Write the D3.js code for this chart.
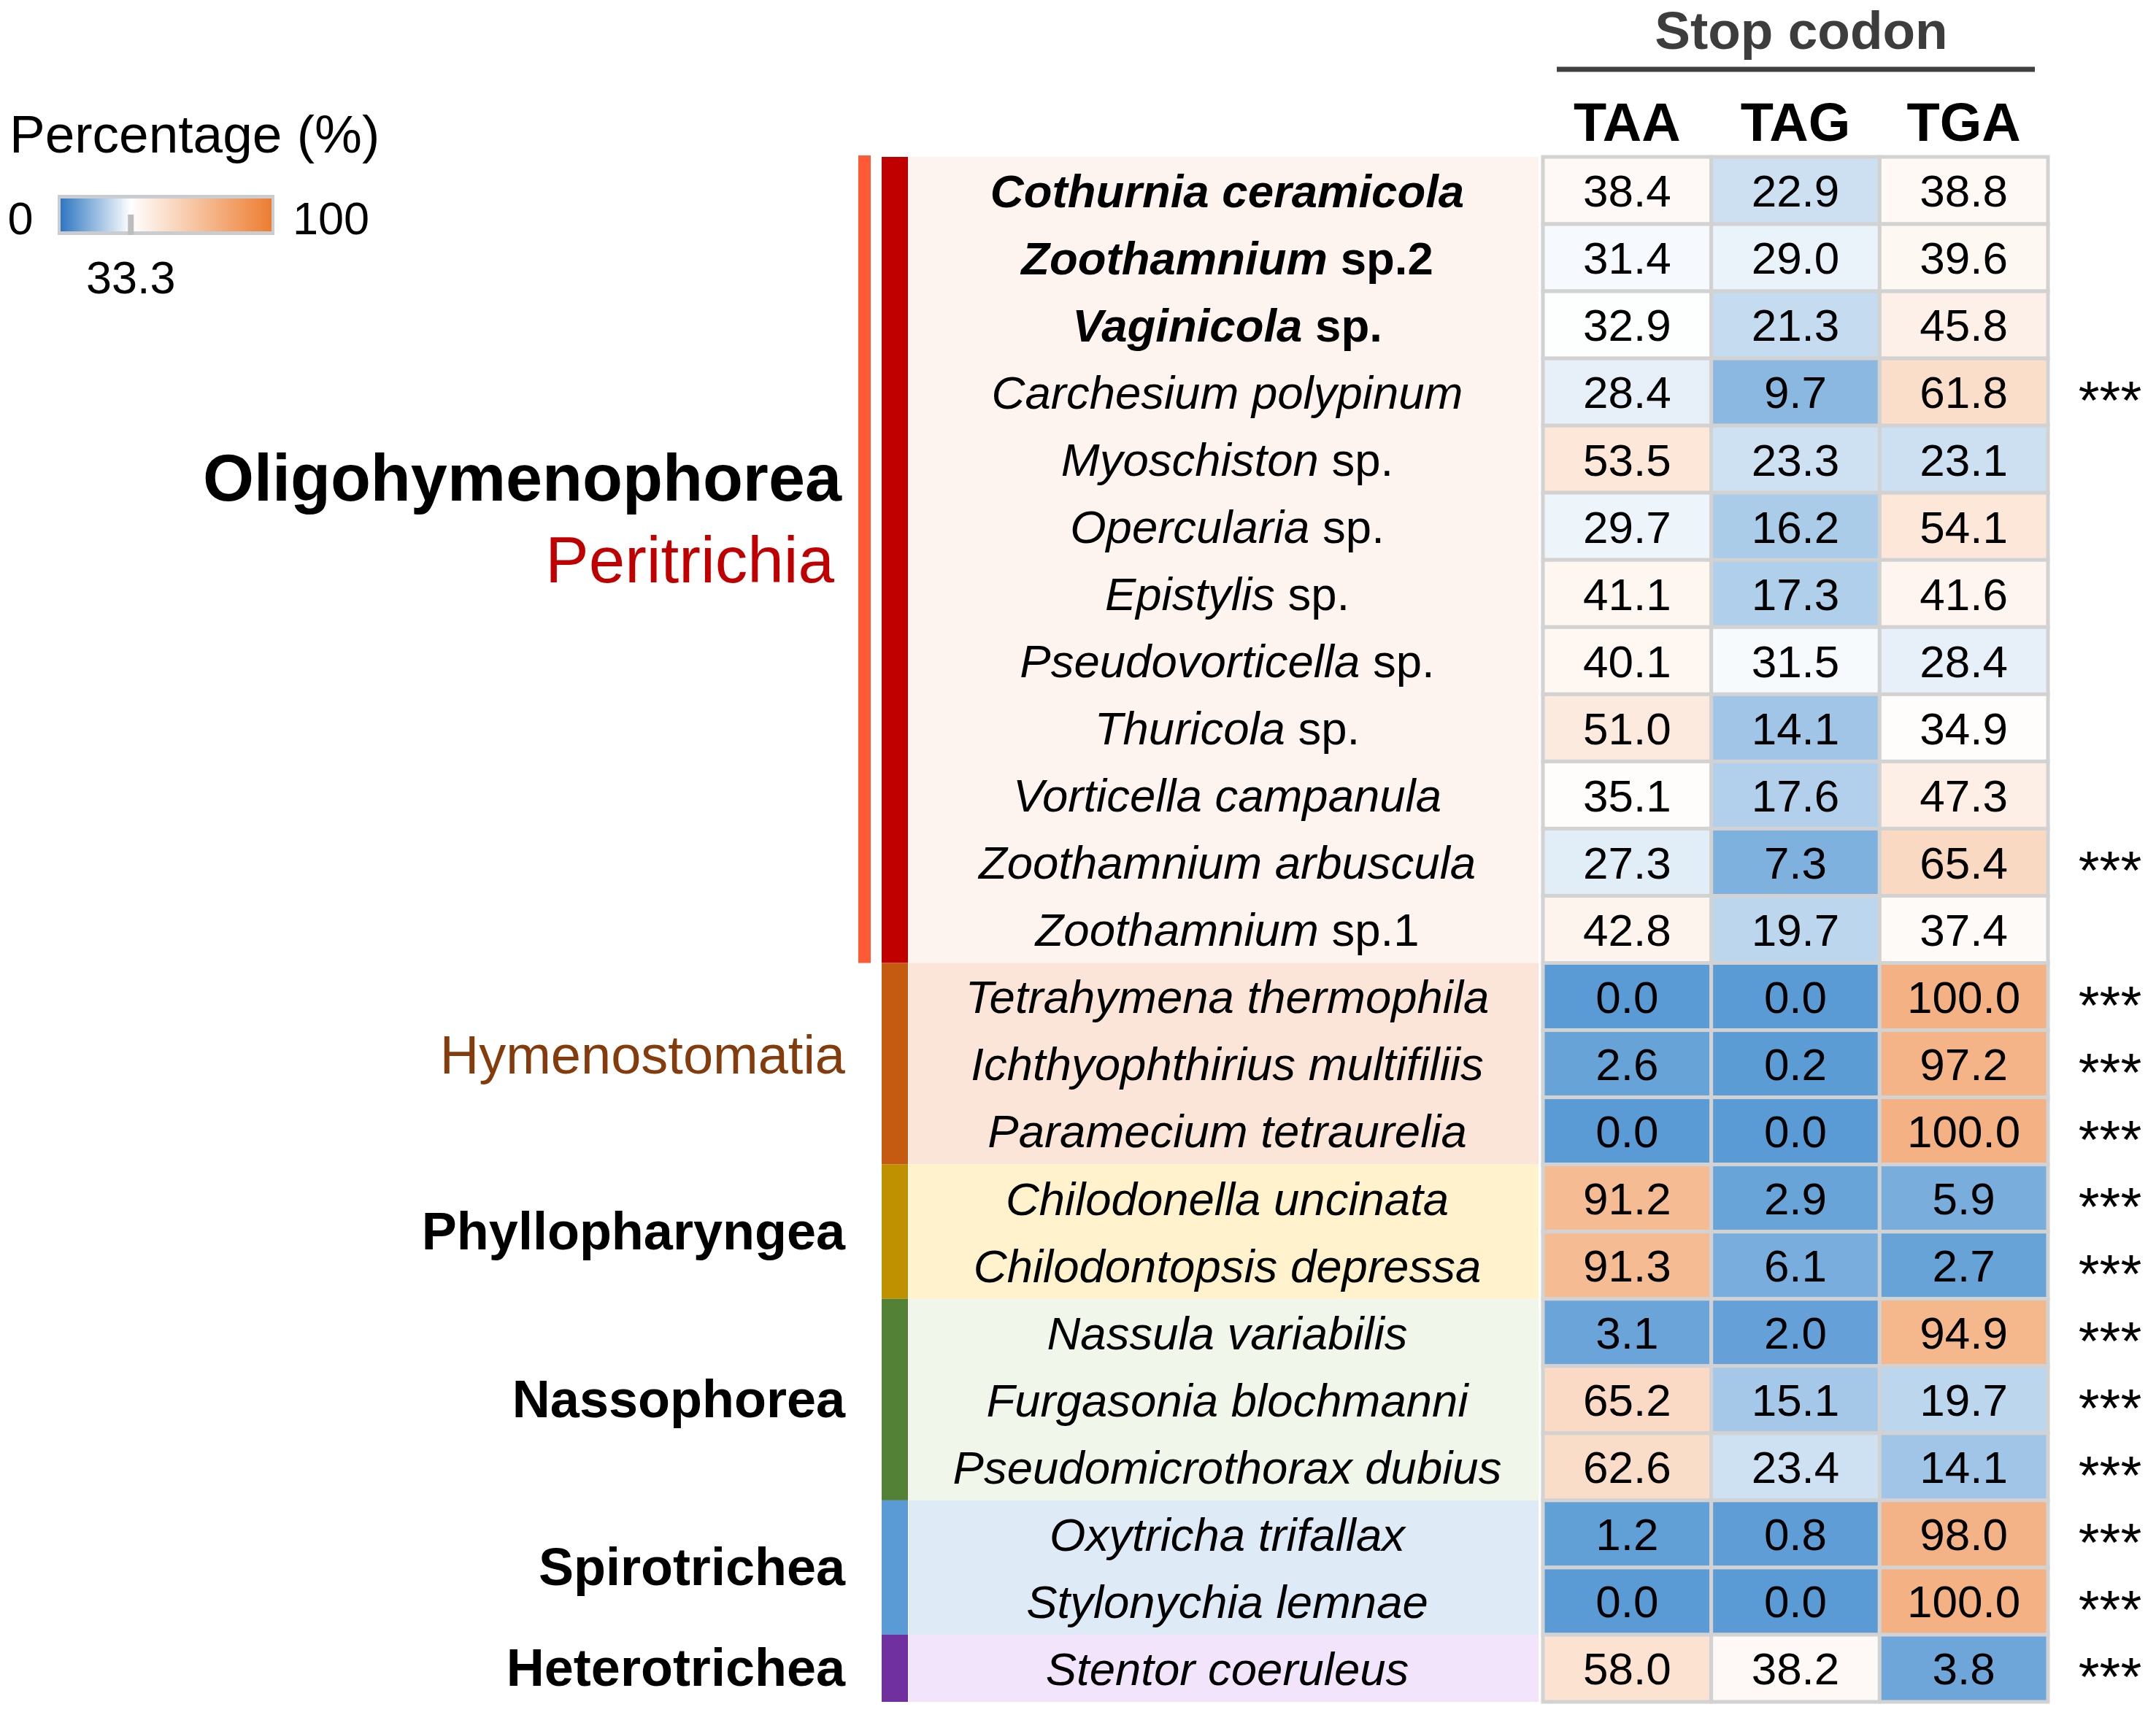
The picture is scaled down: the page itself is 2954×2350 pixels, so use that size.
<!DOCTYPE html>
<html>
<head>
<meta charset="utf-8">
<script src="https://cdn.jsdelivr.net/npm/d3@7"></script>
<style>
  html, body { margin: 0; padding: 0; background: #ffffff; }
  svg { display: block; font-family: "Liberation Sans", Arial, Helvetica, sans-serif; }
</style>
</head>
<body>
<svg id="chart" width="2954" height="2350"></svg>
<script>
// ---------------- DATA ----------------
const codons = ["TAA", "TAG", "TGA"];
const species = [
  "Cothurnia ceramicola", "Zoothamnium sp.2", "Vaginicola sp.", "Carchesium polypinum",
  "Myoschiston sp.", "Opercularia sp.", "Epistylis sp.", "Pseudovorticella sp.",
  "Thuricola sp.", "Vorticella campanula", "Zoothamnium arbuscula", "Zoothamnium sp.1",
  "Tetrahymena thermophila", "Ichthyophthirius multifiliis", "Paramecium tetraurelia",
  "Chilodonella uncinata", "Chilodontopsis depressa",
  "Nassula variabilis", "Furgasonia blochmanni", "Pseudomicrothorax dubius",
  "Oxytricha trifallax", "Stylonychia lemnae",
  "Stentor coeruleus"
];
const boldSpecies = ["Cothurnia ceramicola", "Zoothamnium sp.2", "Vaginicola sp."];
const taaValues = [38.4, 31.4, 32.9, 28.4, 53.5, 29.7, 41.1, 40.1, 51.0, 35.1, 27.3, 42.8, 0.0, 2.6, 0.0, 91.2, 91.3, 3.1, 65.2, 62.6, 1.2, 0.0, 58.0];
const tagValues = [22.9, 29.0, 21.3, 9.7, 23.3, 16.2, 17.3, 31.5, 14.1, 17.6, 7.3, 19.7, 0.0, 0.2, 0.0, 2.9, 6.1, 2.0, 15.1, 23.4, 0.8, 0.0, 38.2];
const tgaValues = [38.8, 39.6, 45.8, 61.8, 23.1, 54.1, 41.6, 28.4, 34.9, 47.3, 65.4, 37.4, 100.0, 97.2, 100.0, 5.9, 2.7, 94.9, 19.7, 14.1, 98.0, 100.0, 3.8];
const significance = ["", "", "", "***", "", "", "", "", "", "", "***", "", "***", "***", "***", "***", "***", "***", "***", "***", "***", "***", "***"];

const groupNames = ["Peritrichia", "Hymenostomatia", "Phyllopharyngea", "Nassophorea", "Spirotrichea", "Heterotrichea"];
const groupSizes = [12, 3, 2, 3, 2, 1];
const superGroupName = "Oligohymenophorea";
const superGroupSize = 12;

const legendTitle = "Percentage (%)";
const legendStops = [0, 33.3, 100];
const legendTickLabels = ["0", "33.3", "100"];
const headerTitle = "Stop codon";

// ---------------- STYLES ----------------
const barColors = ["#c00000", "#c55a11", "#bf9000", "#538135", "#5b9bd5", "#7030a0"];
const bandColors = ["#fdf3ef", "#fbe5d9", "#fff2cc", "#f1f6ea", "#deeaf6", "#f1e4fb"];
const labelColors = ["#c00000", "#843c0c", "#000", "#000", "#000", "#000"];
const labelWeights = ["normal", "normal", "bold", "bold", "bold", "bold"];
const labelSizes = [89, 74, 72, 72, 72, 72];

const svg = d3.select("#chart");

const x = d3.scaleBand().domain(codons).range([2114, 2806]);
const y = d3.scaleBand().domain(species).range([215, 2332]);
const color = d3.scaleLinear().domain(legendStops).range(["#5b9bd5", "#ffffff", "#f4b183"]).clamp(true);

const table = species.map((s, i) => ({
  name: s, i,
  values: [taaValues[i], tagValues[i], tgaValues[i]],
  sig: significance[i]
}));

// group extents
let start = 0;
const groups = groupNames.map((g, k) => {
  const o = { name: g, k, first: species[start], last: species[start + groupSizes[k] - 1] };
  start += groupSizes[k];
  return o;
});

const bandX0 = 1245, bandX1 = 2108;
const barX0 = 1208, barX1 = 1244;

// bands
svg.append("g").selectAll("rect").data(groups).join("rect")
  .attr("x", bandX0).attr("width", bandX1 - bandX0)
  .attr("y", d => y(d.first))
  .attr("height", d => y(d.last) + y.bandwidth() - y(d.first))
  .attr("fill", (d) => bandColors[d.k]);

// group colour bars
svg.append("g").selectAll("rect").data(groups).join("rect")
  .attr("x", barX0).attr("width", barX1 - barX0)
  .attr("y", d => y(d.first))
  .attr("height", d => y(d.last) + y.bandwidth() - y(d.first))
  .attr("fill", d => barColors[d.k]);

// super-group bar
svg.append("rect")
  .attr("x", 1176).attr("width", 17)
  .attr("y", y(species[0]) - 2)
  .attr("height", y(species[superGroupSize - 1]) + y.bandwidth() - y(species[0]) + 2)
  .attr("fill", "#fe5a36");

// group labels
svg.append("g").selectAll("text").data(groups).join("text")
  .attr("x", d => d.k === 0 ? 1143 : 1158)
  .attr("y", d => {
    const c = (y(d.first) + y(d.last) + y.bandwidth()) / 2;
    return d.k === 1 ? c - 12 : (d.k === 0 ? c : c - 1);
  })
  .attr("dy", "0.35em")
  .attr("text-anchor", "end")
  .attr("font-size", d => labelSizes[d.k])
  .attr("font-weight", d => labelWeights[d.k])
  .attr("fill", d => labelColors[d.k])
  .text(d => d.name);

svg.append("text")
  .attr("x", 1153).attr("y", 654).attr("dy", "0.35em")
  .attr("text-anchor", "end").attr("font-size", 90).attr("font-weight", "bold")
  .attr("fill", "#000").text(superGroupName);

// species labels
const labels = svg.append("g").selectAll("text").data(table).join("text")
  .attr("x", (bandX0 + bandX1) / 2 + 5)
  .attr("y", d => y(d.name) + y.bandwidth() / 2)
  .attr("dy", "0.36em")
  .attr("text-anchor", "middle")
  .attr("font-size", 63.5)
  .attr("font-weight", d => boldSpecies.includes(d.name) ? "bold" : "normal")
  .attr("fill", "#000");
labels.each(function(d) {
  const words = d.name.split(" ");
  const t = d3.select(this);
  words.forEach((w, j) => {
    const upright = /^sp\.\d*$/.test(w);
    t.append("tspan")
      .attr("font-style", upright ? "normal" : "italic")
      .text((j > 0 ? " " : "") + w);
  });
});

// heatmap cells
const rows = svg.append("g").selectAll("g").data(table).join("g")
  .attr("transform", d => `translate(0,${y(d.name)})`);
rows.selectAll("rect").data(d => d.values.map((v, j) => ({ v, c: codons[j] }))).join("rect")
  .attr("x", d => x(d.c)).attr("y", 0)
  .attr("width", x.bandwidth()).attr("height", y.bandwidth())
  .attr("fill", d => color(d.v))
  .attr("stroke", "#d2d2d2").attr("stroke-width", 5);
rows.selectAll("text").data(d => d.values.map((v, j) => ({ v, c: codons[j] }))).join("text")
  .attr("x", d => x(d.c) + x.bandwidth() / 2)
  .attr("y", y.bandwidth() / 2).attr("dy", "0.36em")
  .attr("text-anchor", "middle").attr("font-size", 62).attr("fill", "#000")
  .text(d => d3.format(".1f")(d.v));

// significance stars
svg.append("g").selectAll("text").data(table.filter(d => d.sig)).join("text")
  .attr("x", 2891).attr("y", d => y(d.name) + y.bandwidth() / 2)
  .attr("dy", "0.5em")
  .attr("text-anchor", "middle").attr("font-size", 74).attr("fill", "#000")
  .text(d => d.sig);

// column headers
svg.append("g").selectAll("text").data(codons).join("text")
  .attr("x", d => x(d) + x.bandwidth() / 2).attr("y", 166).attr("dy", "0.36em")
  .attr("text-anchor", "middle").attr("font-size", 74).attr("font-weight", "bold")
  .attr("fill", "#000").text(d => d);

svg.append("text")
  .attr("x", 2468).attr("y", 41).attr("dy", "0.36em")
  .attr("text-anchor", "middle").attr("font-size", 73).attr("font-weight", "bold")
  .attr("fill", "#3d3d3d").text(headerTitle);
svg.append("line")
  .attr("x1", 2133).attr("x2", 2788).attr("y1", 95).attr("y2", 95)
  .attr("stroke", "#404040").attr("stroke-width", 7);

// ---------------- LEGEND ----------------
const defs = svg.append("defs");
const grad = defs.append("linearGradient").attr("id", "lg").attr("x1", "0%").attr("x2", "100%");
const legendColor = d3.scaleLinear().domain(legendStops).range(["#2f77c2", "#ffffff", "#ed7d31"]);
legendStops.forEach(s => grad.append("stop").attr("offset", s + "%").attr("stop-color", legendColor(s)));

const lx = d3.scaleLinear().domain([0, 100]).range([83, 372]);
svg.append("text").attr("x", 13).attr("y", 183).attr("dy", "0.36em")
  .attr("font-size", 73).attr("fill", "#000").text(legendTitle);
svg.append("rect").attr("x", 79).attr("y", 267).attr("width", 297).attr("height", 55).attr("fill", "#c9cdd2");
svg.append("rect").attr("x", lx(0)).attr("y", 272).attr("width", lx(100) - lx(0)).attr("height", 45).attr("fill", "url(#lg)");
svg.append("rect").attr("x", lx(33.3) - 4).attr("y", 294).attr("width", 8).attr("height", 28).attr("fill", "#bdbdbd");
svg.append("text").attr("x", 28).attr("y", 298).attr("dy", "0.36em").attr("text-anchor", "middle")
  .attr("font-size", 63).attr("fill", "#000").text(legendTickLabels[0]);
svg.append("text").attr("x", lx(33.3)).attr("y", 379).attr("dy", "0.36em").attr("text-anchor", "middle")
  .attr("font-size", 63).attr("fill", "#000").text(legendTickLabels[1]);
svg.append("text").attr("x", 401).attr("y", 298).attr("dy", "0.36em").attr("text-anchor", "start")
  .attr("font-size", 63).attr("fill", "#000").text(legendTickLabels[2]);
</script>
</body>
</html>
